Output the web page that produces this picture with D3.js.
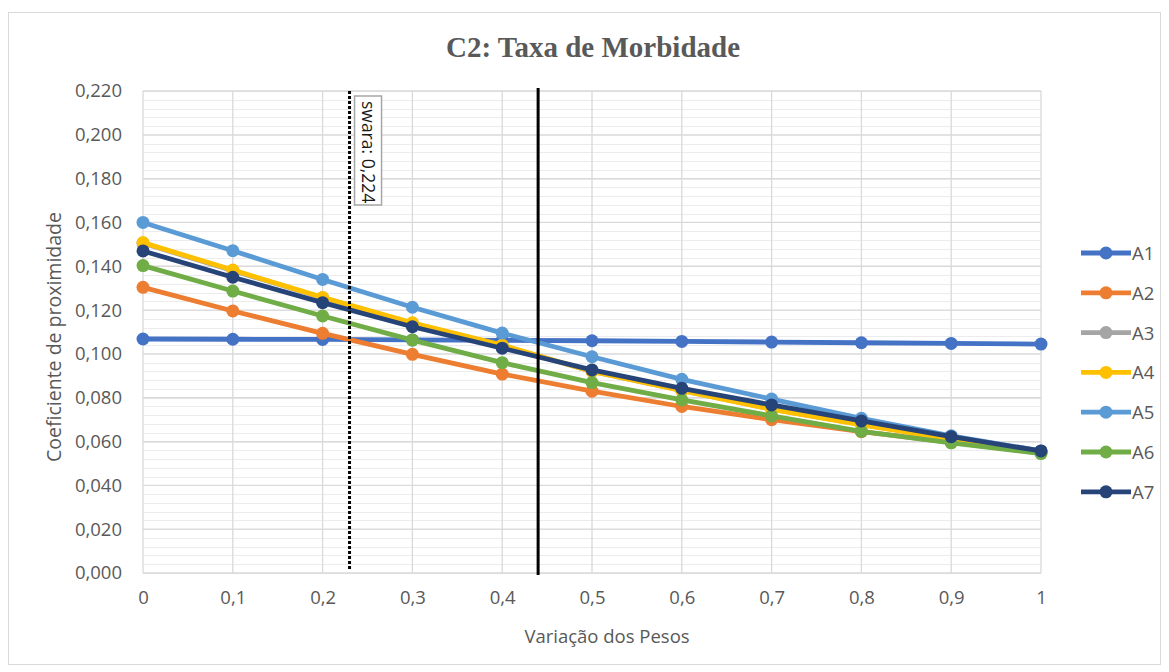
<!DOCTYPE html>
<html>
<head>
<meta charset="utf-8">
<script src="https://cdn.jsdelivr.net/npm/d3@7"></script>
<style>
  body { margin: 0; background: #fff; }
  text { font-family: "Open Sans", "Noto Sans", sans-serif; fill: #595959; }
</style>
</head>
<body>
<div id="chart"></div>
<script>
// dados
var pesos = [0, 0.1, 0.2, 0.3, 0.4, 0.5, 0.6, 0.7, 0.8, 0.9, 1];
var nomes = ["A1", "A2", "A3", "A4", "A5", "A6", "A7"];
var cores = ["#4472C4", "#ED7D31", "#A5A5A5", "#FFC000", "#5B9BD5", "#70AD47", "#264478"];
var A1 = [0.1068, 0.1067, 0.1066, 0.1064, 0.1062, 0.1060, 0.1057, 0.1054, 0.1051, 0.1048, 0.1045];
var A2 = [0.1304, 0.1196, 0.1094, 0.0998, 0.0908, 0.0830, 0.0760, 0.0700, 0.0645, 0.0596, 0.0548];
var A3 = [0.1505, 0.1380, 0.1256, 0.1140, 0.1038, 0.0920, 0.0833, 0.0748, 0.0678, 0.0612, 0.0555];
var A4 = [0.1508, 0.1383, 0.1258, 0.1142, 0.1040, 0.0920, 0.0832, 0.0747, 0.0676, 0.0611, 0.0555];
var A5 = [0.1600, 0.1471, 0.1340, 0.1213, 0.1095, 0.0987, 0.0884, 0.0794, 0.0706, 0.0626, 0.0557];
var A6 = [0.1403, 0.1287, 0.1173, 0.1063, 0.0960, 0.0869, 0.0790, 0.0717, 0.0646, 0.0594, 0.0545];
var A7 = [0.1470, 0.1350, 0.1234, 0.1124, 0.1026, 0.0927, 0.0843, 0.0767, 0.0694, 0.0622, 0.0557];
var series = [A1, A2, A3, A4, A5, A6, A7];
var yTicks = [0, 0.02, 0.04, 0.06, 0.08, 0.10, 0.12, 0.14, 0.16, 0.18, 0.20, 0.22];
var swaraPos = 0.23;       // linha pontilhada
var swaraLabel = "swara: 0,224";
var linhaSolida = 0.44;    // linha continua

var W = 1169, H = 672;
var margin = {top: 91, right: 128, bottom: 99, left: 143};

var svg = d3.select("#chart").append("svg")
    .attr("width", W)
    .attr("height", H);

// moldura do grafico
svg.append("rect")
    .attr("x", 8.5).attr("y", 12.5)
    .attr("width", 1152).attr("height", 652)
    .attr("fill", "#fff")
    .attr("stroke", "#d9d9d9");

var x = d3.scaleLinear().domain([0, 1]).range([margin.left, W - margin.right]);
var y = d3.scaleLinear().domain([0, 0.22]).range([H - margin.bottom, margin.top]);

//grade menor
var g = svg.append("g").attr("id", "grade");
g.selectAll("line.menor")
    .data(d3.range(0, 0.2201, 0.004))
    .enter().append("line")
    .attr("class", "menor")
    .attr("x1", x(0)).attr("x2", x(1))
    .attr("y1", function (d) { return Math.round(y(d)) + 0.5; })
    .attr("y2", function (d) { return Math.round(y(d)) + 0.5; })
    .attr("stroke", "#ececec").attr("stroke-width", 1);

//grade maior
g.selectAll("line.maior")
    .data(yTicks)
    .enter().append("line")
    .attr("class", "maior")
    .attr("x1", x(0)).attr("x2", x(1))
    .attr("y1", function (d) { return y(d); })
    .attr("y2", function (d) { return y(d); })
    .attr("stroke", "#d9d9d9").attr("stroke-width", 1.3);

g.selectAll("line.vert")
    .data(pesos)
    .enter().append("line")
    .attr("class", "vert")
    .attr("x1", function (d) { return x(d); })
    .attr("x2", function (d) { return x(d); })
    .attr("y1", y(0)).attr("y2", y(0.22))
    .attr("stroke", "#d9d9d9").attr("stroke-width", 1.3);

// eixos
var fmtY = function (d) { return d3.format(".3f")(d).replace(".", ","); };
var fmtX = function (d) { return d === 0 || d === 1 ? String(d) : d3.format(".1f")(d).replace(".", ","); };

var yAxis = svg.append("g")
    .attr("transform", "translate(" + margin.left + ",0)")
    .call(d3.axisLeft(y).tickValues(yTicks).tickFormat(fmtY).tickSize(0).tickPadding(21));
yAxis.select(".domain").remove();
yAxis.selectAll("text").attr("font-size", 18.5).style("font-family", "Open Sans").attr("fill", "#595959");

var xAxis = svg.append("g")
    .attr("transform", "translate(0," + y(0) + ")")
    .call(d3.axisBottom(x).tickValues(pesos).tickFormat(fmtX).tickSize(0).tickPadding(18));
xAxis.select(".domain").remove();
xAxis.selectAll("text").attr("font-size", 18.5).style("font-family", "Open Sans").attr("fill", "#595959");

// titulo
svg.append("text")
    .attr("x", 593).attr("y", 57)
    .attr("text-anchor", "middle")
    .style("font-family", "'Liberation Serif', serif")
    .style("font-weight", "bold")
    .attr("font-size", 29)
    .text("C2: Taxa de Morbidade");

svg.append("text")
    .attr("x", 607).attr("y", 643)
    .attr("text-anchor", "middle")
    .attr("font-size", 18.5)
    .text("Variação dos Pesos");

svg.append("text")
    .attr("transform", "translate(61,337) rotate(-90)")
    .attr("text-anchor", "middle")
    .attr("font-size", 19.5)
    .text("Coeficiente de proximidade");

// linhas das series
var line = d3.line()
    .x(function (d, i) { return x(pesos[i]); })
    .y(function (d) { return y(d); });

series.forEach(function (s, k) {
    var gs = svg.append("g").attr("class", "serie");
    gs.append("path")
        .datum(s)
        .attr("d", line)
        .attr("fill", "none")
        .attr("stroke", cores[k])
        .attr("stroke-width", 4.8)
        .attr("stroke-linejoin", "round");
    gs.selectAll("circle")
        .data(s)
        .enter().append("circle")
        .attr("cx", function (d, i) { return x(pesos[i]); })
        .attr("cy", function (d) { return y(d); })
        .attr("r", 6.5)
        .attr("fill", cores[k]);
});

// linha pontilhada swara
svg.append("line")
    .attr("x1", x(swaraPos)).attr("x2", x(swaraPos))
    .attr("y1", y(0.22)).attr("y2", y(0) - 3)
    .attr("stroke", "#000")
    .attr("stroke-width", 3)
    .attr("stroke-dasharray", "3,2");

svg.append("rect")
    .attr("x", x(swaraPos) + 5).attr("y", 96)
    .attr("width", 27).attr("height", 109)
    .attr("fill", "#fff")
    .attr("stroke", "#a6a6a6")
    .attr("stroke-width", 1.5);

svg.append("text")
    .attr("transform", "translate(" + (x(swaraPos) + 12) + ",101) rotate(90)")
    .attr("font-size", 17.5)
    .style("fill", "#1a1a1a")
    .text(swaraLabel);

// linha continua
svg.append("line")
    .attr("x1", x(linhaSolida)).attr("x2", x(linhaSolida))
    .attr("y1", y(0.22) - 3).attr("y2", y(0) + 2)
    .attr("stroke", "#000")
    .attr("stroke-width", 3);

// legenda
var leg = svg.append("g").attr("id", "legenda");
var item = leg.selectAll("g")
    .data(nomes)
    .enter().append("g")
    .attr("transform", function (d, i) { return "translate(1081," + (253 + i * 39.8) + ")"; });
item.append("line")
    .attr("x1", 0).attr("x2", 50)
    .attr("stroke", function (d, i) { return cores[i]; })
    .attr("stroke-width", 4.8);
item.append("circle")
    .attr("cx", 25).attr("r", 6.5)
    .attr("fill", function (d, i) { return cores[i]; });
item.append("text")
    .attr("x", 51).attr("y", 7)
    .attr("font-size", 18.5)
    .text(function (d) { return d; });
</script>
</body>
</html>
